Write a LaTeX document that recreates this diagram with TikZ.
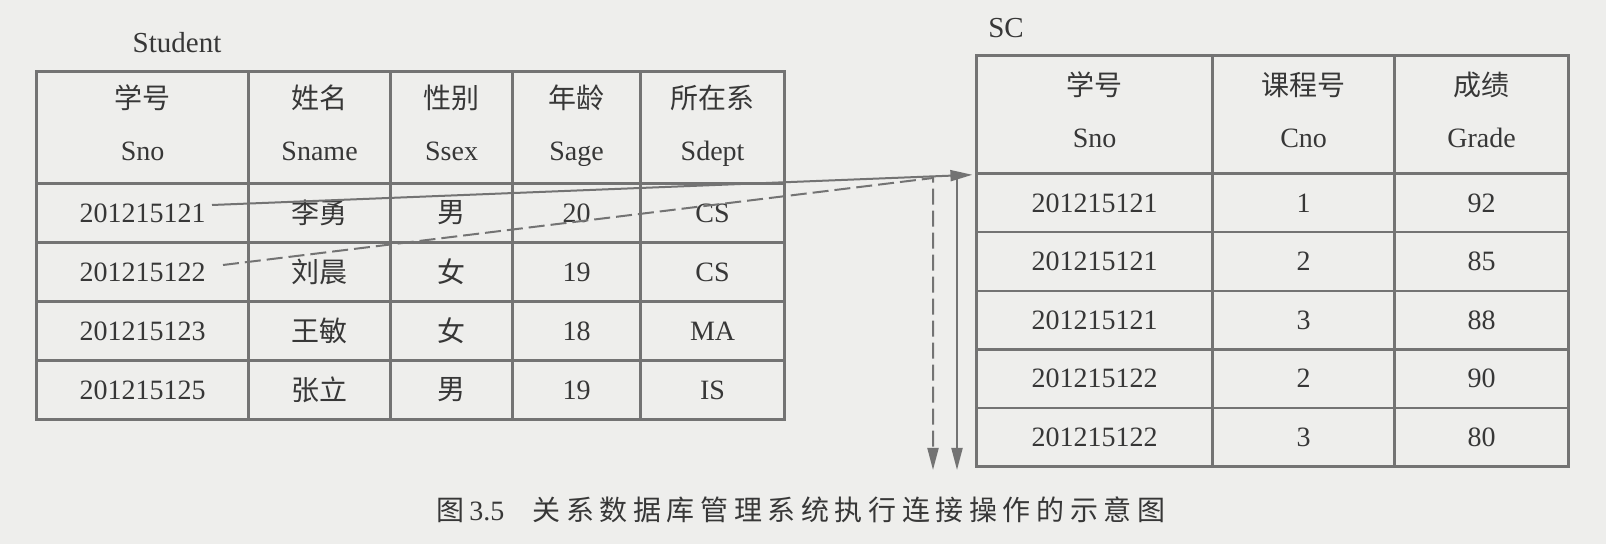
\documentclass[tikz,border=0pt]{standalone}
\usepackage{fontspec}
\setmainfont{Liberation Serif}
\newfontfamily\cjk{Noto Sans CJK SC}
\newfontfamily\cjkcap[LetterSpace=20]{Noto Sans CJK SC}
\usepackage{xcolor}
\usepackage{tikz}
\usetikzlibrary{matrix, arrows.meta, positioning}
\definecolor{ink}{RGB}{55,55,55}
\definecolor{rule}{RGB}{115,115,115}
\definecolor{paper}{RGB}{238,238,236}
\newcommand{\zh}[1]{{\cjk #1}}
\newcommand{\hd}[2]{\begin{tabular}{@{}c@{}}\zh{#1}\\[9pt]#2\end{tabular}}
\tikzstyle{tbl} = [matrix of nodes, anchor=north west, inner sep=0pt, column sep=-1.2pt, row sep=-1.2pt, nodes={draw=rule, line width=1.2pt, anchor=center, inner sep=0pt, minimum height=29.5pt, text=ink, font=\fontsize{14}{17}\selectfont}]
\tikzstyle{tname} = [text=ink, font=\fontsize{14.5}{17}\selectfont]
\tikzstyle{link} = [line width=1pt, draw=rule, -{Triangle[length=11pt,width=5.5pt]}]

\begin{document}
\begin{tikzpicture}[x=0.5pt, y=0.5pt]
    \fill[paper] (0,0) rectangle (1606,-544);
    \useasboundingbox (0,0) rectangle (1606,-544);

    % Student table
    \node[tname] (stlabel) at (177,-43) {Student};
    \matrix[tbl, row 1/.style={nodes={minimum height=56pt}},
        column 1/.style={nodes={minimum width=106pt}}, column 2/.style={nodes={minimum width=71pt}},
        column 3/.style={nodes={minimum width=61pt}}, column 4/.style={nodes={minimum width=64pt}},
        column 5/.style={nodes={minimum width=72pt}}] (st) at (35,-70) {
        \hd{学号}{Sno} & \hd{姓名}{Sname} & \hd{性别}{Ssex} & \hd{年龄}{Sage} & \hd{所在系}{Sdept} \\
        201215121 & \zh{李勇} & \zh{男} & 20 & CS \\
        201215122 & \zh{刘晨} & \zh{女} & 19 & CS \\
        201215123 & \zh{王敏} & \zh{女} & 18 & MA \\
        201215125 & \zh{张立} & \zh{男} & 19 & IS \\
    };

    % SC table
    \node[tname] (sclabel) at (1006,-28) {SC};
    \matrix[tbl, nodes={minimum height=29.3pt}, row 1/.style={nodes={minimum height=59pt}},
        column 1/.style={nodes={minimum width=118pt}}, column 2/.style={nodes={minimum width=91pt}},
        column 3/.style={nodes={minimum width=87pt}}] (sc) at (975,-54) {
        \hd{学号}{Sno} & \hd{课程号}{Cno} & \hd{成绩}{Grade} \\
        201215121 & 1 & 92 \\
        201215121 & 2 & 85 \\
        201215121 & 3 & 88 \\
        201215122 & 2 & 90 \\
        201215122 & 3 & 80 \\
    };

    % join scans
    \coordinate (stout1) at (212,-205);
    \coordinate (stout2) at (223,-265);
    \coordinate (scan1) at (957,-175);
    \coordinate (scan1end) at (957,-470);
    \coordinate (scan2) at (933,-178);
    \coordinate (scan2end) at (933,-470);
    \draw[link] (stout1) -- ([xshift=-1.5pt]sc-1-1.south west);
    \draw[link] (scan1) -- (scan1end);
    \draw[link, dash pattern=on 8pt off 3pt] (stout2) -- (scan2) -- (scan2end);

    \node[text=ink, font=\fontsize{14}{16}\selectfont] (caption) at (801,-510)
        {{\cjkcap 图}\,3.5\hspace{14pt}{\cjkcap 关系数据库管理系统执行连接操作的示意图}};
\end{tikzpicture}
\end{document}
